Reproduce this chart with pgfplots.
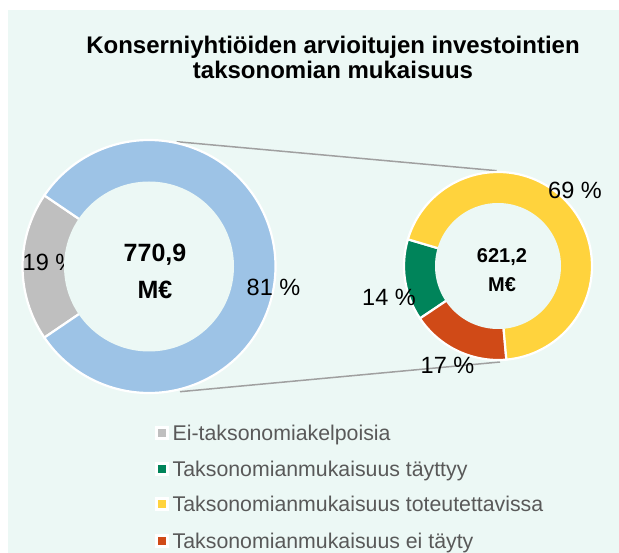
\documentclass[border=0pt]{standalone}
\usepackage{fontspec}
\setmainfont{Liberation Sans}
\usepackage{pgfplots}
\pgfplotsset{compat=1.18}
\definecolor{bgc}{HTML}{ECF8F5}
\definecolor{cblue}{HTML}{9DC3E6}
\definecolor{cgray}{HTML}{BFBFBF}
\definecolor{cgreen}{HTML}{00845A}
\definecolor{cyellow}{HTML}{FFD33D}
\definecolor{cred}{HTML}{D04A17}
\definecolor{ctxt}{HTML}{595959}
\definecolor{cline}{HTML}{A0A0A0}
\newcommand\fs[2]{\fontsize{#1bp}{#2bp}\selectfont}
% wedge: cx, cy, radius, start angle, percent, colour
\newcommand\donutwedge[6]{%
  \fill[#6, draw=white, line width=2.2bp] (axis cs:#1,#2) -- ++(#4:#3bp)
    arc[start angle=#4, delta angle={#5*3.6}, radius=#3bp] -- cycle;}
\newcommand\legitem[3]{%
  \fill[white] (axis cs:155,#1+0.3) rectangle (axis cs:169,#1+14.3);
  \fill[#2] (axis cs:158,#1+3.3) rectangle (axis cs:166,#1+11.3);
  \node[anchor=base west, inner sep=0pt, text=ctxt, font=\fs{21.3}{24}] at (axis cs:172.5,#1) {#3};}
\begin{document}
\begin{tikzpicture}
\begin{axis}[scale only axis, width=619bp, height=553bp,
  xmin=0, xmax=619, ymin=0, ymax=553, hide axis, clip=false]
\fill[white] (axis cs:0,0) rectangle (axis cs:619,553);
\fill[bgc] (axis cs:8,0) rectangle (axis cs:619,543);
% connector lines
\addplot[cline, line width=1.5bp, no marks] coordinates {(176.7,411.3) (496.7,382.3)};
\addplot[cline, line width=1.5bp, no marks] coordinates {(180,161.3) (500,191)};
% left donut: 19 % / 81 %
\donutwedge{149}{286.5}{126.5}{145.8}{19}{cgray}
\donutwedge{149}{286.5}{126.5}{214.2}{81}{cblue}
% right donut: 14 % / 17 % / 69 %
\donutwedge{498}{287}{94}{163.5}{14}{cgreen}
\donutwedge{498}{287}{94}{213.9}{17}{cred}
\donutwedge{498}{287}{94}{275.1}{69}{cyellow}
% percentage labels
\node[anchor=west, inner sep=0pt, font=\fs{23.5}{26}] at (axis cs:22.5,291) {19 \%};
\node[inner sep=0pt, font=\fs{23.5}{26}] at (axis cs:273.5,266) {81 \%};
\node[inner sep=0pt, font=\fs{23.5}{26}] at (axis cs:575,363) {69 \%};
\node[inner sep=0pt, font=\fs{23.5}{26}] at (axis cs:389,256) {14 \%};
\node[inner sep=0pt, font=\fs{23.5}{26}] at (axis cs:447.5,188) {17 \%};
% holes
\fill[bgc] (axis cs:149,286.5) circle[radius=85bp];
\fill[bgc] (axis cs:498,287) circle[radius=63bp];
% centre texts
\node[inner sep=0pt, font=\fs{25}{28}\bfseries] at (axis cs:155,298) {770,9};
\node[inner sep=0pt, font=\fs{25}{28}\bfseries] at (axis cs:155,263) {M€};
\node[inner sep=0pt, font=\fs{20}{24}\bfseries] at (axis cs:502,296.3) {621,2};
\node[inner sep=0pt, font=\fs{20}{24}\bfseries] at (axis cs:502,268) {M€};
% title
\node[anchor=base, inner sep=0pt, font=\fs{24}{26}\bfseries] at (axis cs:333,499.7) {Konserniyhtiöiden arvioitujen investointien};
\node[anchor=base, inner sep=0pt, font=\fs{24}{26}\bfseries] at (axis cs:333,474) {taksonomian mukaisuus};
% legend
\legitem{112.3}{cgray}{Ei-taksonomiakelpoisia}
\legitem{76.3}{cgreen}{Taksonomianmukaisuus täyttyy}
\legitem{41.3}{cyellow}{Taksonomianmukaisuus toteutettavissa}
\legitem{4.7}{cred}{Taksonomianmukaisuus ei täyty}
\end{axis}
\end{tikzpicture}
\end{document}
